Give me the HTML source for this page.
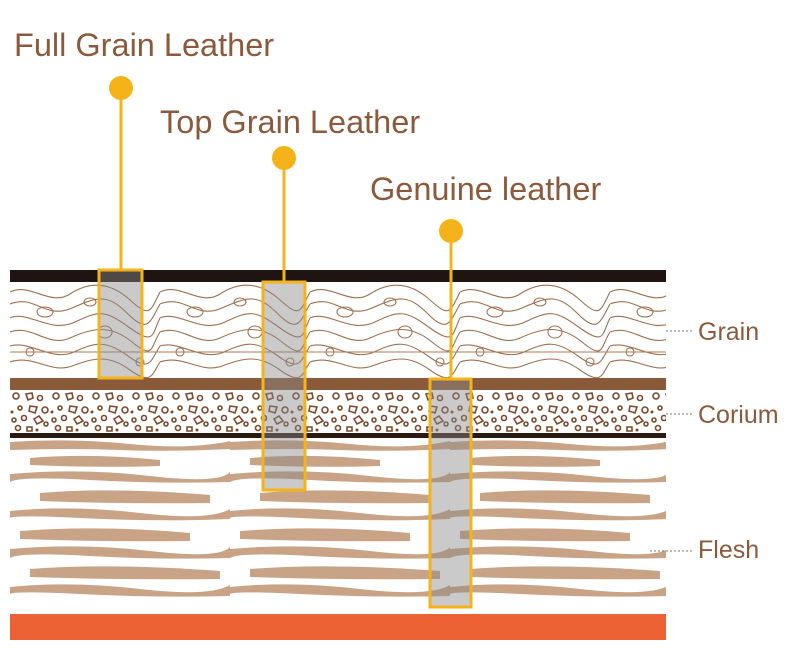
<!DOCTYPE html>
<html><head><meta charset="utf-8"><style>
body{margin:0;background:#fff;width:800px;height:647px;overflow:hidden;font-family:"Liberation Sans",sans-serif}
</style></head><body>
<svg width="800" height="647" viewBox="0 0 800 647" xmlns="http://www.w3.org/2000/svg">
<defs>
<pattern id="grain" x="10" y="282" width="150" height="96" patternUnits="userSpaceOnUse">
<rect width="150" height="96" fill="#fff"/>
<g fill="none" stroke="#a0704f" stroke-width="1.1">
<path d="M0 10 C20 0 40 25 60 12 S100 0 120 18 S140 30 150 10"/>
<path d="M0 22 C25 12 35 38 62 26 S98 12 118 32 S140 40 150 22"/>
<path d="M0 36 C18 28 40 52 65 40 S95 28 120 46 S142 52 150 36"/>
<path d="M0 50 C22 42 38 66 60 56 S100 42 122 60 S140 66 150 50"/>
<path d="M0 64 C20 58 42 80 64 70 S96 58 118 74 S140 80 150 64"/>
<path d="M0 80 C24 72 40 92 62 84 S98 72 120 88 S142 92 150 80"/>
<ellipse cx="35" cy="30" rx="8" ry="5"/><ellipse cx="95" cy="50" rx="7" ry="6"/><circle cx="130" cy="80" r="4"/><circle cx="20" cy="70" r="4"/><ellipse cx="80" cy="20" rx="6" ry="4"/>
</g>
<line x1="0" y1="70" x2="150" y2="70" stroke="#b07a55" stroke-width="1"/>
</pattern>
<pattern id="cor" x="10" y="390" width="40" height="43" patternUnits="userSpaceOnUse">
<rect width="40" height="43" fill="#fff"/>
<g fill="none" stroke="#7a4a2c" stroke-width="1.6">
<circle cx="6" cy="6" r="3"/><path d="M16 4 l6 -1 l1 5 l-5 2z"/><circle cx="30" cy="8" r="2.5"/>
<circle cx="10" cy="18" r="2"/><path d="M20 16 l7 1 l-2 6 l-6 -2z"/><circle cx="35" cy="20" r="3"/>
<circle cx="4" cy="30" r="2"/><circle cx="14" cy="28" r="2.5"/><path d="M24 29 l5 -3 l4 5 l-6 3z"/><circle cx="36" cy="34" r="2"/>
<circle cx="8" cy="38" r="2.5"/><path d="M17 37 l5 0 l0 4 l-5 0z"/>
</g>
<circle cx="27" cy="40" r="1.5" fill="#7a4a2c"/><circle cx="2" cy="22" r="1.5" fill="#7a4a2c"/>
</pattern>
<pattern id="flesh" x="10" y="438" width="220" height="170" patternUnits="userSpaceOnUse">
<rect width="220" height="170" fill="#fff"/>
<g fill="#c9a386">
<path d="M0 4 Q60 0 120 6 T220 3 L220 11 Q160 14 110 12 T0 12z"/>
<path d="M20 20 Q80 15 150 22 L150 28 Q90 30 20 27z"/>
<path d="M0 36 Q70 30 140 38 T220 34 L220 44 Q150 46 80 42 T0 44z"/>
<path d="M30 55 Q100 49 200 57 L200 65 Q110 66 30 63z"/>
<path d="M0 73 Q60 67 130 75 T220 71 L220 81 Q150 84 70 80 T0 82z"/>
<path d="M10 93 Q90 87 180 95 L180 103 Q100 104 10 101z"/>
<path d="M0 111 Q70 105 140 113 T220 109 L220 120 Q150 122 80 118 T0 120z"/>
<path d="M20 131 Q100 125 210 133 L210 141 Q110 142 20 139z"/>
<path d="M0 149 Q60 143 130 151 T220 147 L220 158 Q150 160 70 156 T0 158z"/>
</g>
</pattern>
</defs>
<rect x="10" y="270" width="656" height="12" fill="#1e1512"/>
<rect x="10" y="282" width="656" height="96" fill="url(#grain)"/>
<rect x="10" y="378" width="656" height="12" fill="#8a5a3a"/>
<rect x="10" y="390" width="656" height="43" fill="url(#cor)"/>
<rect x="10" y="433" width="656" height="5" fill="#2a1a12"/>
<rect x="10" y="438" width="656" height="170" fill="url(#flesh)"/>
<rect x="10" y="614" width="656" height="26" fill="#ec6234"/>
<g fill="#8a8a8a" fill-opacity="0.45">
<rect x="99" y="270" width="43" height="107"/>
<rect x="263" y="282" width="42" height="207"/>
<rect x="430" y="379" width="41" height="227"/>
</g>
<g fill="none" stroke="#f5b31a" stroke-width="3">
<rect x="99" y="270" width="43" height="108"/>
<rect x="263" y="282" width="42" height="208"/>
<rect x="430" y="379" width="41" height="228"/>
<line x1="121" y1="88" x2="121" y2="270"/>
<line x1="284" y1="158" x2="284" y2="282"/>
<line x1="451" y1="231" x2="451" y2="379"/>
</g>
<g fill="#f5b31a"><circle cx="121" cy="88" r="12"/><circle cx="284" cy="158" r="12"/><circle cx="451" cy="231" r="12"/></g>
<g fill="#8b5a3c" font-family="Liberation Sans, sans-serif" font-size="32.5">
<text x="14" y="56">Full Grain Leather</text>
<text x="160" y="133">Top Grain Leather</text>
<text x="370" y="200">Genuine leather</text>
</g>
<g stroke="#8b7060" stroke-dasharray="2,2" stroke-width="1">
<line x1="666" y1="331" x2="694" y2="331"/><line x1="666" y1="414" x2="694" y2="414"/><line x1="650" y1="551" x2="694" y2="551"/>
</g>
<g fill="#8b5a3c" font-size="25">
<text x="698" y="340">Grain</text><text x="698" y="423">Corium</text><text x="698" y="558">Flesh</text>
</g>
</svg>
</body></html>
